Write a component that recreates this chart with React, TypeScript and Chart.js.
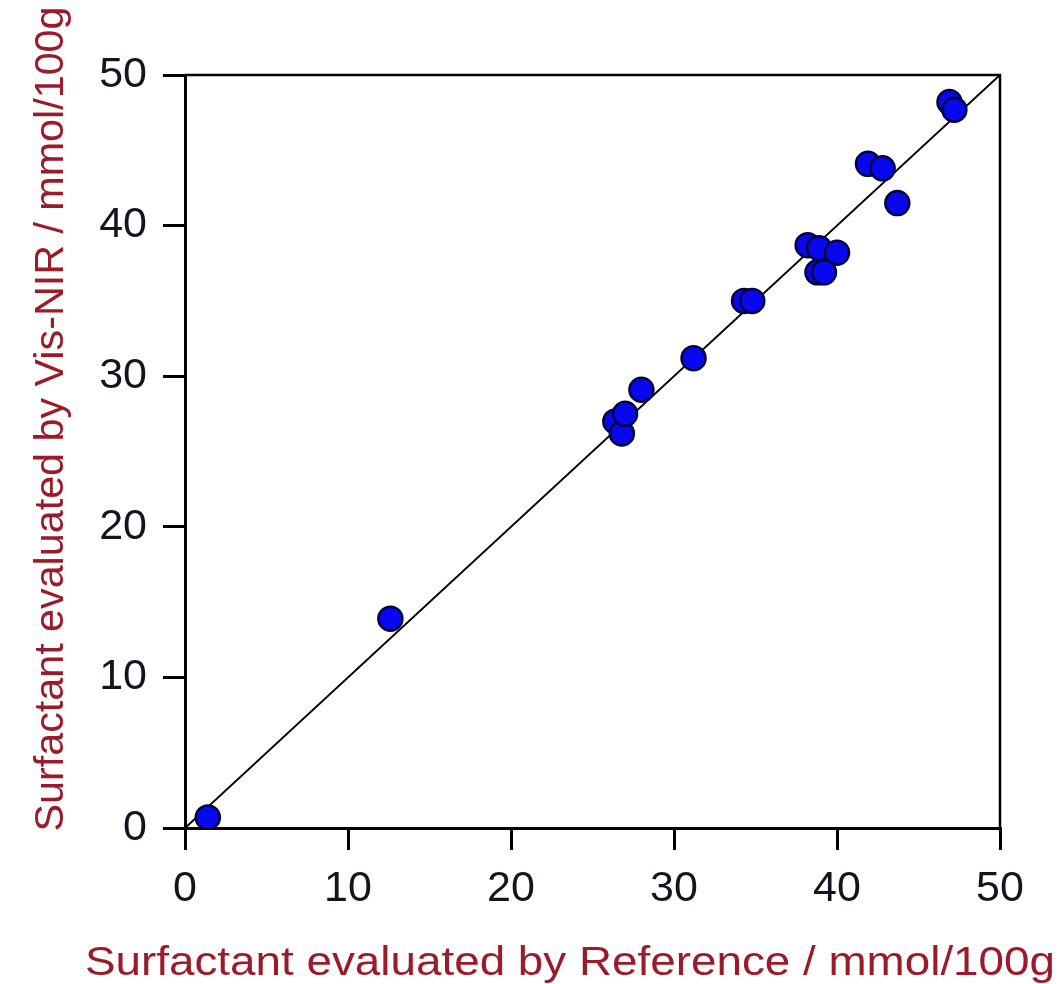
import React, { useEffect, useRef } from "react";
import { Chart, registerables } from "chart.js";

Chart.register(...registerables);

const referenceValues = [1.4, 12.6, 26.4, 26.8, 27.0, 28.0, 31.2, 34.3, 34.8, 38.2, 38.9, 40.0, 38.8, 39.2, 41.9, 42.8, 43.7, 46.9, 47.2];
const visNirValues = [0.7, 13.9, 27.0, 26.2, 27.5, 29.1, 31.2, 35.0, 35.0, 38.7, 38.5, 38.2, 36.9, 36.9, 44.1, 43.8, 41.5, 48.2, 47.7];
const identityLine = [0, 50];
const tickValues = [0, 10, 20, 30, 40, 50];

const xTitle = "Surfactant evaluated by Reference / mmol/100g";
const yTitle = "Surfactant evaluated by Vis-NIR / mmol/100g";

const titleColor = "#9b1b2b";
const FONT = '"Liberation Sans", Arial, sans-serif';

const titlePlugin = {
  id: "axisTitles",
  afterDraw(chart: any) {
    const ctx = chart.ctx as CanvasRenderingContext2D;
    ctx.save();
    ctx.fillStyle = titleColor;
    ctx.textAlign = "center";
    ctx.textBaseline = "alphabetic";
    ctx.font = `40px ${FONT}`;
    let w = ctx.measureText(xTitle).width;
    ctx.save();
    ctx.translate(570, 975);
    ctx.scale(970 / w, 1);
    ctx.fillText(xTitle, 0, 0);
    ctx.restore();
    ctx.font = `41px ${FONT}`;
    w = ctx.measureText(yTitle).width;
    ctx.save();
    ctx.translate(63, 419);
    ctx.rotate(-Math.PI / 2);
    ctx.scale(825 / w, 1);
    ctx.fillText(yTitle, 0, 0);
    ctx.restore();
    ctx.restore();
  },
};

const framePlugin = {
  id: "frame",
  afterDatasetsDraw(chart: any) {
    const { ctx, chartArea } = chart;
    ctx.save();
    ctx.strokeStyle = "#000";
    ctx.lineWidth = 2.5;
    ctx.beginPath();
    ctx.moveTo(chartArea.left, chartArea.top);
    ctx.lineTo(chartArea.right, chartArea.top);
    ctx.lineTo(chartArea.right, chartArea.bottom);
    ctx.stroke();
    ctx.restore();
  },
};

export default function App() {
  const ref = useRef<HTMLCanvasElement>(null);

  useEffect(() => {
    if (!ref.current) return;
    const points = referenceValues.map((x, i) => ({ x, y: visNirValues[i] }));
    const linePts = identityLine.map((v) => ({ x: v, y: v }));
    const tickStyle = {
      font: { family: FONT, size: 43 },
      color: "#141420",
      padding: 13,
    };
    const chart = new Chart(ref.current, {
      type: "scatter",
      data: {
        datasets: [
          {
            type: "scatter",
            data: points,
            backgroundColor: "#0808f0",
            borderColor: "#00003c",
            borderWidth: 2.5,
            pointRadius: 12,
            order: 0,
          } as any,
          {
            type: "line",
            data: linePts,
            borderColor: "#000",
            borderWidth: 2,
            pointRadius: 0,
            showLine: true,
            fill: false,
            order: 1,
          } as any,
        ],
      },
      options: {
        animation: false,
        responsive: false,
        maintainAspectRatio: false,
        layout: { padding: { top: 75, right: 58, left: 0, bottom: 0 } },
        plugins: {
          legend: { display: false },
          tooltip: { enabled: false },
        },
        scales: {
          x: {
            type: "linear",
            min: 0,
            max: 50,
            afterBuildTicks: (scale: any) => {
              scale.ticks = tickValues.map((v) => ({ value: v }));
            },
            afterFit: (scale: any) => {
              scale.height = 156;
            },
            ticks: tickStyle,
            grid: {
              drawOnChartArea: false,
              drawTicks: true,
              tickLength: 22,
              color: "#000",
              lineWidth: 3,
            },
            border: { display: true, color: "#000", width: 3 },
            title: { display: false },
          },
          y: {
            type: "linear",
            min: 0,
            max: 50,
            afterBuildTicks: (scale: any) => {
              scale.ticks = tickValues.map((v) => ({ value: v }));
            },
            afterFit: (scale: any) => {
              scale.width = 185;
            },
            ticks: { ...tickStyle, padding: 16 },
            grid: {
              drawOnChartArea: false,
              drawTicks: true,
              tickLength: 22,
              color: "#000",
              lineWidth: 3,
            },
            border: { display: true, color: "#000", width: 3 },
            title: { display: false },
          },
        },
      },
      plugins: [titlePlugin, framePlugin],
    });
    return () => chart.destroy();
  }, []);

  return (
    <div style={{ position: "absolute", left: 0, top: 0, width: 1058, height: 984, background: "#fff" }}>
      <canvas ref={ref} width={1058} height={984} style={{ width: 1058, height: 984, display: "block" }} />
    </div>
  );
}
